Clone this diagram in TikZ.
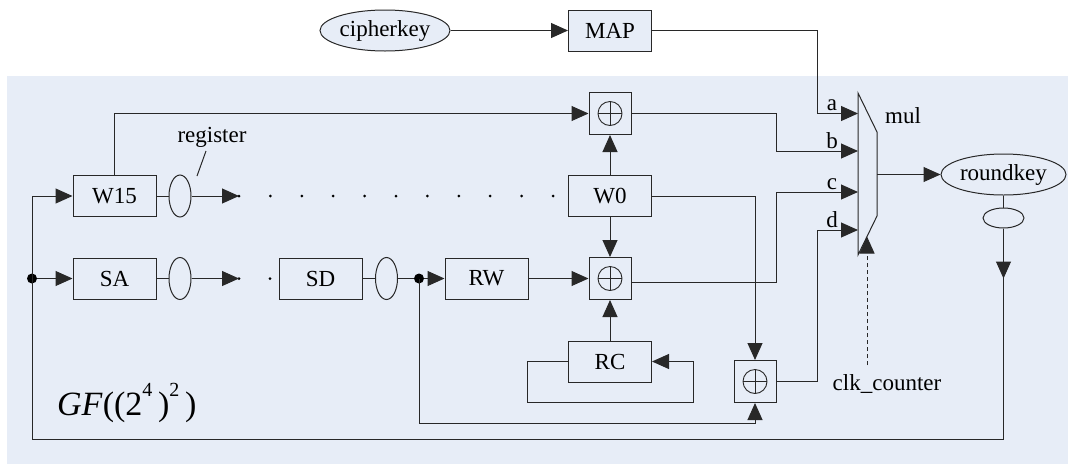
\documentclass[tikz,border=0pt]{standalone}
\usepackage{fontspec}
\setmainfont{Liberation Serif}
\usetikzlibrary{shapes.geometric,arrows.meta,calc}
\definecolor{panel}{RGB}{231,237,247}
\definecolor{ink}{RGB}{40,40,40}

\begin{document}
\begin{tikzpicture}[x=1pt,y=-1pt,
  every node/.style={font=\fontsize{23}{27}\selectfont, text=black},
  wire/.style={draw=ink, line width=1pt},
  arr/.style={wire, arrows={-Triangle[length=17pt,width=15pt]}},
  blk/.style={draw=ink, line width=1pt, rectangle, minimum width=83pt, minimum height=41pt, inner sep=0pt},
  xorbox/.style={draw=ink, line width=1pt, rectangle, minimum size=42pt, inner sep=0pt,
    path picture={
      \draw[ink, line width=0.9pt] (path picture bounding box.center) circle (12pt);
      \draw[ink, line width=0.9pt] ($(path picture bounding box.center)+(-12pt,0pt)$) -- ++(24pt,0pt);
      \draw[ink, line width=0.9pt] ($(path picture bounding box.center)+(0pt,-12pt)$) -- ++(0pt,24pt);}},
  reg/.style={draw=ink, line width=1pt, ellipse, minimum width=22pt, minimum height=42pt, inner sep=0pt},
  oval/.style={draw=ink, line width=1pt, ellipse, minimum height=41pt, inner sep=0pt},
  dotmark/.style={circle, fill=black, inner sep=0pt, minimum size=3pt},
  junction/.style={circle, fill=black, inner sep=0pt, minimum size=10pt},
  lbl/.style={anchor=base, inner sep=0pt},
]
\useasboundingbox (0,0) rectangle (1068,464);
% shaded field area
\fill[panel] (7,76) rectangle (1068,464);

% key input
\node[oval, fill=panel, minimum width=130pt] (ck) at (385,30.5) {cipherkey};
\node[blk, fill=panel] (map) at (610,30.5) {MAP};

% word registers W15 ... W0
\node[blk] (w15) at (114.5,196) {W15};
\node[reg] (r1) at (180,196) {};
\coordinate (t1) at (239,196);
\foreach \k in {0,...,10} \node[dotmark] (wd\k) at (239+31.4*\k,196) {};
\node[blk] (w0) at (610,196) {W0};

% S-box chain SA ... SD, then RW
\node[blk] (sa) at (114.5,278.5) {SA};
\node[reg] (r2) at (180,278.5) {};
\coordinate (t2) at (239,278.5);
\node[dotmark] (sd0) at (239,278.5) {};
\node[dotmark] (sd1) at (270,278.5) {};
\node[blk] (sd) at (320.5,278.5) {SD};
\node[reg] (r3) at (386.5,278.5) {};
\node[junction] (j2) at (419,278.5) {};
\node[blk] (rw) at (486.5,278.5) {RW};

% adders
\node[xorbox] (x1) at (610,113.5) {};
\node[xorbox] (x2) at (610,278.5) {};
\node[xorbox] (x3) at (755,381.5) {};
\node[blk] (rc) at (610,361.5) {RC};

% multiplexer
\draw[wire, fill=panel] (858,93) -- (877,132) -- (877,216) -- (858,255) -- cycle;
\coordinate (ma) at (858,113.5);
\coordinate (mb) at (858,151);
\coordinate (mc) at (858,192);
\coordinate (md) at (858,230);
\coordinate (mo) at (877,174.5);
\coordinate (mclk) at (867,236.5);
\coordinate (clk) at (867,365);

% output
\node[oval, minimum width=125pt] (rk) at (1003.5,174.5) {roundkey};
\node[draw=ink, line width=1pt, ellipse, minimum width=41pt, minimum height=20pt, inner sep=0pt] (r4) at (1003.5,218) {};
\node[junction] (j1) at (32,278.5) {};
\coordinate (fb) at (32,439);

% connections
\draw[arr] (ck) -- (map);
\draw[arr] (map.east) -- ++(165.5,0) |- (ma);
\draw[arr] (w15.north) |- (x1.west);
\draw[wire] (w15) -- (r1);
\draw[arr] (r1) -- (t1);
\draw[arr] (w0) -- (x1);
\draw[arr] (w0) -- (x2);
\draw[arr] (w0.east) -| (x3.north);
\draw[arr] (x1.east) -- ++(145,0) |- (mb);
\draw[arr] ($(x2.east)+(0,4)$) -- ++(145,0) |- (mc);
\draw[arr] (x3.east) -- ++(41,0) |- (md);
\draw[arr] (mo) -- (rk.west);
\draw[wire] (rk) -- (r4);
\draw[wire] (r4.south) |- (fb) -- (j1.center);
\draw[arr] (r4.south) -- ++(0,50);
\draw[arr] (j1.center) |- (w15.west);
\draw[arr] (j1) -- (sa);
\draw[wire] (sa) -- (r2);
\draw[arr] (r2) -- (t2);
\draw[wire] (sd) -- (r3);
\draw[wire] (r3) -- (j2);
\draw[arr] (j2) -- (rw);
\draw[arr] (j2.center) -- ++(0,144.5) -| (x3.south);
\draw[arr] (rw) -- (x2);
\draw[arr] (rc) -- (x2);
\draw[arr] (rc.west) -- ++(-40.5,0) |- ($(rc.east)+(41,40.5)$) |- (rc.east);
\draw[arr, dash pattern=on 4pt off 3pt] (clk) -- (mclk);

% labels
\node[lbl] (la) at (832,110) {a};
\node[lbl] (lb) at (832,148) {b};
\node[lbl] (lc) at (832,189) {c};
\node[lbl] (ld) at (832,227) {d};
\node[lbl] (lmul) at (903,123) {mul};
\node[lbl] (lclk) at (887,390) {clk\_counter};
\node (lreg) at (212,137) {register};
\coordinate (regtip) at (197,176);
\draw[wire] (regtip) -- (206,151);
\node[anchor=base west, inner sep=0pt, font=\fontsize{34}{40}\selectfont] (gf) at (57,415)
  {\textit{GF}((2\raisebox{0.55em}{\fontsize{20}{20}\selectfont 4}\,)\raisebox{0.55em}{\fontsize{20}{20}\selectfont 2}\,)};
\end{tikzpicture}
\end{document}
